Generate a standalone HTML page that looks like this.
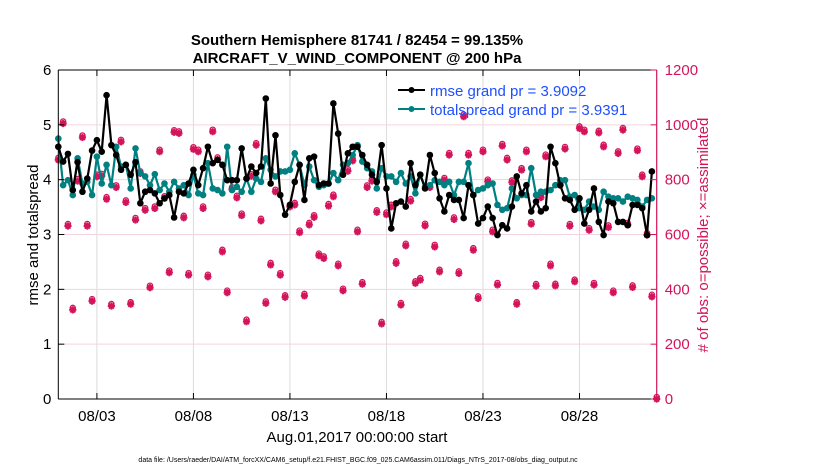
<!DOCTYPE html>
<html><head><meta charset="utf-8"><style>
body{margin:0;background:#fff;}
svg text{font-family:"Liberation Sans",Arial,sans-serif;}
</style></head><body>
<svg id="chart" width="830" height="470" viewBox="0 0 830 470" xmlns="http://www.w3.org/2000/svg">
<rect width="830" height="470" fill="#fff"/>
<g id="grid"></g>
<g id="obs"></g>
<g id="lines"></g>
<g id="axes"></g>
<text x="357" y="45" text-anchor="middle" font-size="15" font-weight="bold">Southern Hemisphere 81741 / 82454 = 99.135%</text>
<text x="357" y="63" text-anchor="middle" font-size="15" font-weight="bold">AIRCRAFT_V_WIND_COMPONENT @ 200 hPa</text>
<text transform="translate(38,235) rotate(-90)" text-anchor="middle" font-size="15">rmse and totalspread</text>
<text transform="translate(708,235) rotate(-90)" text-anchor="middle" font-size="15" fill="#d4145a"># of obs: o=possible; ×=assimilated</text>
<text x="357" y="442" text-anchor="middle" font-size="15">Aug.01,2017 00:00:00 start</text>
<text x="358" y="462" text-anchor="middle" font-size="7">data file: /Users/raeder/DAI/ATM_forcXX/CAM6_setup/f.e21.FHIST_BGC.f09_025.CAM6assim.011/Diags_NTrS_2017-08/obs_diag_output.nc</text>
<g>
<line x1="398" y1="90" x2="425" y2="90" stroke="#000" stroke-width="2"/><circle cx="411.5" cy="90" r="3" fill="#000"/>
<text x="430" y="96" font-size="15" fill="#1f4fff">rmse grand pr = 3.9092</text>
<line x1="398" y1="109" x2="425" y2="109" stroke="#008080" stroke-width="2"/><circle cx="411.5" cy="109" r="3" fill="#008080"/>
<text x="430" y="115" font-size="15" fill="#1f4fff">totalspread grand pr = 3.9391</text>
</g>
</svg>
<script>
const rmse=[4.60,4.33,4.47,3.81,4.32,3.78,4.02,4.53,4.72,4.51,5.54,4.63,4.45,4.18,4.27,4.09,4.32,3.57,3.78,3.81,3.75,3.57,3.66,3.72,3.31,3.78,3.75,3.93,4.18,3.90,
4.21,4.60,4.30,4.36,4.27,3.99,3.99,3.99,4.57,4.02,4.24,4.12,4.24,5.48,3.93,4.81,3.72,3.36,3.54,3.96,4.27,3.63,4.39,4.42,3.90,3.93,3.93,5.39,4.84,4.09,4.48,4.60,
4.60,4.45,4.27,4.09,3.96,4.63,3.84,3.11,3.57,3.60,3.51,4.30,3.90,4.09,3.84,4.45,4.12,3.66,3.42,3.72,3.63,3.63,3.30,3.90,3.72,3.20,3.30,3.51,3.30,2.99,3.17,
3.11,3.51,4.06,3.75,3.90,3.42,3.60,3.42,3.48,4.60,4.30,3.90,3.66,3.63,3.45,3.66,3.20,3.45,3.84,3.23,2.99,3.60,3.57,3.23,3.23,3.17,3.54,3.54,3.48,2.99,4.15];
const spread=[4.75,3.90,3.99,3.72,4.39,3.93,3.96,3.72,4.42,3.93,4.27,3.90,4.60,4.24,4.27,3.84,4.57,4.12,4.06,3.90,4.10,3.81,3.93,3.78,3.96,3.84,3.90,3.72,4.09,3.75,
3.72,4.30,3.84,3.81,3.75,4.60,3.81,3.87,3.78,4.02,3.78,4.02,3.96,4.39,4.18,4.06,4.15,4.15,4.18,4.48,4.27,3.90,4.24,3.99,3.87,3.90,3.93,4.12,3.99,4.27,4.30,4.45,
4.63,4.33,4.21,4.15,3.84,4.21,4.06,4.06,3.96,4.12,3.93,4.06,3.75,4.09,3.87,3.90,3.99,3.96,3.90,3.96,3.72,3.96,3.96,4.30,3.72,3.81,3.84,3.90,3.93,3.54,3.45,
3.48,3.84,3.66,3.72,3.72,4.21,3.72,3.78,3.78,3.81,3.90,3.99,3.99,3.69,3.72,3.48,3.45,3.60,3.51,3.45,3.78,3.69,3.66,3.66,3.60,3.69,3.66,3.63,3.51,3.63,3.66];
const obsCount=[872,1005,631,325,795,954,631,357,811,814,729,339,772,938,717,346,653,823,689,406,695,902,732,461,973,969,661,452,911,902,695,446,
975,874,537,388,765,734,669,282,813,926,650,349,489,756,452,371,701,708,607,376,635,663,523,513,704,738,486,395,831,869,610,419,
772,795,681,274,673,701,495,343,559,722,422,434,632,772,555,464,799,890,655,458,1030,890,543,367,902,793,610,416,923,872,
790,346,835,902,638,412,735,884,486,413,780,912,631,428,987,975,616,416,971,920,626,388,896,981,635,407,906,811,598,373,0];
const xTickDays=[2,7,12,17,22,27];
const xTickLabels=["08/03","08/08","08/13","08/18","08/23","08/28"];
const yTicks=[0,1,2,3,4,5,6];
const y2Ticks=[0,200,400,600,800,1000,1200];
const stepDays=0.25;

const L=58.3,R=656.7,T=70,B=399;
const xS=d=>L+(R-L)*d/31;
const yS=v=>B-(B-T)*v/6;
const y2S=v=>B-(B-T)*v/1200;
const NS="http://www.w3.org/2000/svg";
function mk(tag,attrs,parent){const e=document.createElementNS(NS,tag);for(const k in attrs)e.setAttribute(k,attrs[k]);parent.appendChild(e);return e;}
const grid=document.getElementById('grid'),axes=document.getElementById('axes'),obsG=document.getElementById('obs'),linesG=document.getElementById('lines');
const PINK="#d4145a";
xTickDays.forEach(d=>{const g=mk('line',{x1:xS(d),x2:xS(d),y1:T,y2:B,stroke:'#dcdcdc','stroke-width':1},grid);

});
y2Ticks.forEach(v=>{if(v===0||v===1200)return;const g=mk('line',{x1:L,x2:R,y1:y2S(v),y2:y2S(v),stroke:'#f5d3df','stroke-width':1},grid);

});
obsCount.forEach((v,i)=>{const cx=xS(i*stepDays),cy=y2S(v);
const g=mk('g',{},obsG);


mk('circle',{cx:cx,cy:cy-2,r:2.6,fill:'none',stroke:PINK,'stroke-width':1.3},g);
const s=3.6;
mk('path',{d:`M${cx-s} ${cy}H${cx+s}M${cx} ${cy-s}V${cy+s}M${cx-s*0.7} ${cy-s*0.7}L${cx+s*0.7} ${cy+s*0.7}M${cx-s*0.7} ${cy+s*0.7}L${cx+s*0.7} ${cy-s*0.7}`,stroke:PINK,'stroke-width':2},g);
mk('circle',{cx:cx,cy:cy,r:2.2,fill:PINK},g);
});
function series(arr,color,name){
 const pts=arr.map((v,i)=>xS(i*stepDays).toFixed(1)+','+yS(v).toFixed(1)).join(' ');
 const pl=mk('polyline',{points:pts,fill:'none',stroke:color,'stroke-width':2.2,'stroke-linejoin':'round'},linesG);
 
 
 arr.forEach((v,i)=>{const c=mk('circle',{cx:xS(i*stepDays),cy:yS(v),r:3.3,fill:color},linesG);
 
 });
}
series(spread,'#008080','totalspread');
series(rmse,'#000000','rmse');
const lax=mk('line',{x1:L,x2:L,y1:T,y2:B,stroke:'#000','stroke-width':1},axes);


const bax=mk('line',{x1:L,x2:R,y1:B,y2:B,stroke:'#000','stroke-width':1},axes);


const tax=mk('line',{x1:L,x2:R,y1:T,y2:T,stroke:'#000','stroke-width':1},axes);


const rax=mk('line',{x1:R,x2:R,y1:T,y2:B,stroke:PINK,'stroke-width':1.2},axes);


xTickDays.forEach((d,k)=>{const x=xS(d);
mk('line',{x1:x,x2:x,y1:B,y2:B-6,stroke:'#000'},axes);
mk('line',{x1:x,x2:x,y1:T,y2:T+6,stroke:'#000'},axes);
const t=mk('text',{x:x,y:B+22,'text-anchor':'middle','font-size':15},axes);t.textContent=xTickLabels[k];

});
yTicks.forEach(v=>{const y=yS(v);
mk('line',{x1:L,x2:L+6,y1:y,y2:y,stroke:'#000'},axes);
const t=mk('text',{x:L-7,y:y+5,'text-anchor':'end','font-size':15},axes);t.textContent=v;

});
y2Ticks.forEach(v=>{const y=y2S(v);
mk('line',{x1:R,x2:R-6,y1:y,y2:y,stroke:PINK},axes);
const t=mk('text',{x:R+8,y:y+5,'text-anchor':'start','font-size':15,fill:PINK},axes);t.textContent=v;

});
</script>
</body></html>
